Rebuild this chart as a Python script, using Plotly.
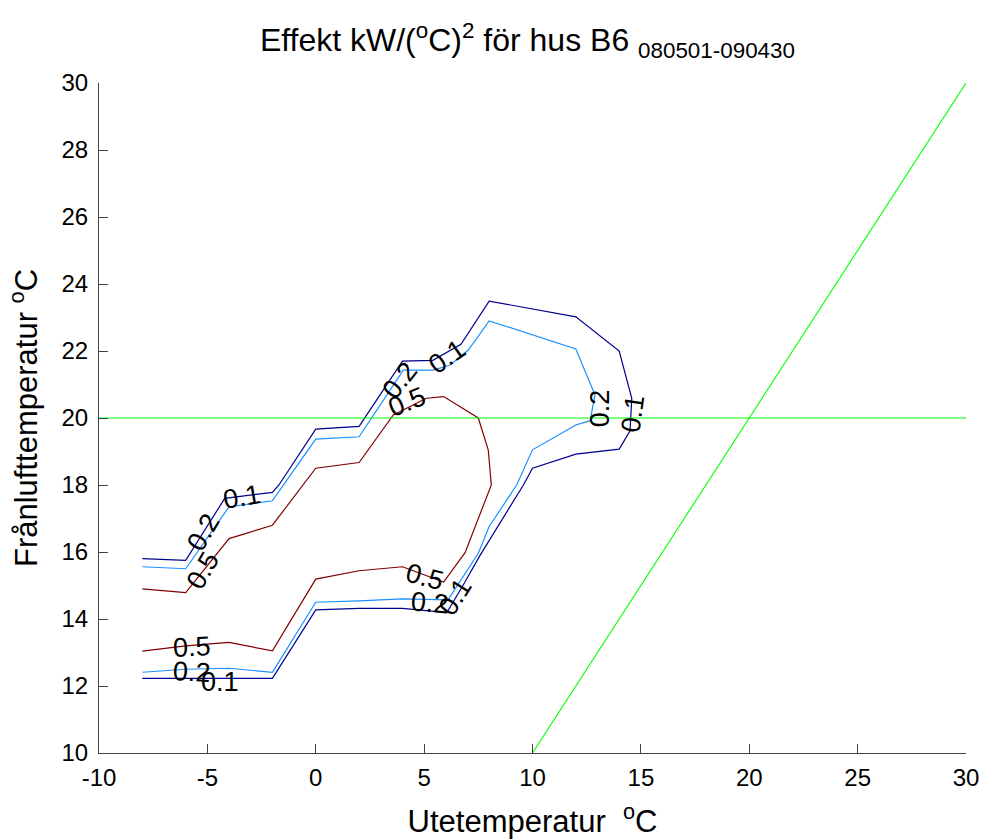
import plotly.graph_objects as go

# ---- data ----
# contour level 0.1 (dark blue), traced from upper-left end to lower-left end
c01_x = [-8, -6, -4.2, -2, -1.7, 0, 2, 4, 5.4, 6.7, 8, 12, 14, 14.58, 14.5, 14, 12, 10, 9.58, 8, 7.58, 6.89, 6.05, 4, 2, 0, -2, -8]
c01_y = [15.8, 15.75, 17.6, 17.78, 18.0, 19.67, 19.75, 21.7, 21.72, 22.2, 23.49, 23.02, 22.0, 20.59, 19.62, 19.07, 18.92, 18.5, 18.0, 16.36, 15.9, 15.11, 14.19, 14.32, 14.32, 14.27, 12.23, 12.23]

# contour level 0.2 (light blue)
c02_x = [-8, -6, -4, -2, -1.6, 0, 2, 4.04, 5.42, 6.2, 7.04, 8, 12, 12.88, 12.66, 12, 10, 9.27, 8, 7.5, 6.1, 4, 2, 0, -2, -4, -6, -8]
c02_y = [15.56, 15.5, 17.35, 17.53, 17.9, 19.37, 19.44, 21.43, 21.43, 21.58, 22.03, 22.9, 22.06, 20.69, 19.92, 19.79, 19.05, 18.0, 16.76, 15.96, 14.57, 14.6, 14.54, 14.5, 12.41, 12.53, 12.5, 12.41]

# contour level 0.5 (dark red)
c05_x = [-8, -6, -4, -2, 0, 2, 3.58, 5.1, 5.9, 7.5, 7.96, 8.1, 6.89, 5.9, 4, 2, 0, -2, -4, -6, -8]
c05_y = [14.9, 14.79, 16.4, 16.8, 18.5, 18.67, 20.09, 20.59, 20.64, 20.0, 19.04, 18.0, 15.98, 15.1, 15.56, 15.44, 15.19, 13.05, 13.3, 13.2, 13.04]

# green reference lines
h_line_x = [-10, 30]
h_line_y = [20, 20]
d_line_x = [10, 30]
d_line_y = [10, 30]

# contour labels: text, x, y, angle
label_text = ["0.1", "0.2", "0.5", "0.2", "0.5", "0.1", "0.2", "0.1", "0.5", "0.2", "0.1", "0.5", "0.2", "0.1"]
label_x = [-3.42, -5.19, -5.19, 3.89, 4.2, 6.04, 13.11, 14.65, 5.04, 5.27, 6.42, -5.73, -5.73, -4.42]
label_y = [17.65, 16.61, 15.46, 21.13, 20.49, 21.83, 20.29, 20.14, 15.26, 14.47, 14.67, 13.17, 12.43, 12.13]
label_angle = [-10, -60, -60, -52, -22, -35, -90, -82, 15, 5, -58, -3, 3, 0]

x_ticks = [-10, -5, 0, 5, 10, 15, 20, 25, 30]
x_tick_text = ["-10", "-5", "0", "5", "10", "15", "20", "25", "30"]
y_ticks = [10, 12, 14, 16, 18, 20, 22, 24, 26, 28, 30]

FONT = "Liberation Sans, Arial, sans-serif"
C01 = "#00008f"
C02 = "#1a90ff"
C05 = "#800000"
GREEN = "#00ff00"

fig = go.Figure()
for xs, ys, col, nm in [(c01_x, c01_y, C01, "0.1"), (c02_x, c02_y, C02, "0.2"), (c05_x, c05_y, C05, "0.5")]:
    fig.add_trace(go.Scatter(x=xs, y=ys, mode="lines", line=dict(color=col, width=1.2), name=nm,
                             showlegend=False, hoverinfo="skip"))
fig.add_trace(go.Scatter(x=h_line_x, y=h_line_y, mode="lines", line=dict(color=GREEN, width=1.1),
                         showlegend=False, hoverinfo="skip"))
fig.add_trace(go.Scatter(x=d_line_x, y=d_line_y, mode="lines", line=dict(color=GREEN, width=1.1),
                         showlegend=False, hoverinfo="skip"))

for t, lx, ly, a in zip(label_text, label_x, label_y, label_angle):
    fig.add_annotation(x=lx, y=ly, xref="x", yref="y", text=t, showarrow=False, textangle=a,
                       font=dict(family=FONT, size=27, color="black"))

fig.update_layout(
    width=984, height=839,
    margin=dict(l=99, r=18, t=83, b=86),
    paper_bgcolor="white", plot_bgcolor="white",
    font=dict(family=FONT, color="black"),
    title=dict(text="Effekt kW/(<sup>o</sup>C)<sup>2</sup> för hus B6 <sub>080501-090430</sub>",
               x=0.536, xanchor="center", y=0.952, yanchor="middle", yref="container",
               font=dict(family=FONT, size=32, color="black")),
)
fig.update_xaxes(range=[-10, 30], tickvals=x_ticks, ticktext=x_tick_text, ticks="inside", ticklen=9,
                 tickcolor="#444", automargin=False, ticklabeloverflow="allow",
                 showline=True, linecolor="#444", linewidth=1, showgrid=False, zeroline=False,
                 tickfont=dict(family=FONT, size=24, color="black"), ticklabelstandoff=3,
                 title=dict(text="Utetemperatur  <sup>o</sup>C", font=dict(family=FONT, size=31, color="black"),
                            standoff=22))
fig.update_yaxes(range=[10, 30], tickvals=y_ticks, ticks="inside", ticklen=9, tickcolor="#444",
                 automargin=False, ticklabeloverflow="allow",
                 showline=True, linecolor="#444", linewidth=1, showgrid=False, zeroline=False,
                 tickfont=dict(family=FONT, size=24, color="black"), ticklabelstandoff=5,
                 title=dict(text="Frånlufttemperatur <sup>o</sup>C", font=dict(family=FONT, size=31, color="black"),
                            standoff=14))

fig.write_html("out.html", config={"displayModeBar": False},
               post_script="document.body.style.margin='0px';document.body.style.overflow='hidden';")
